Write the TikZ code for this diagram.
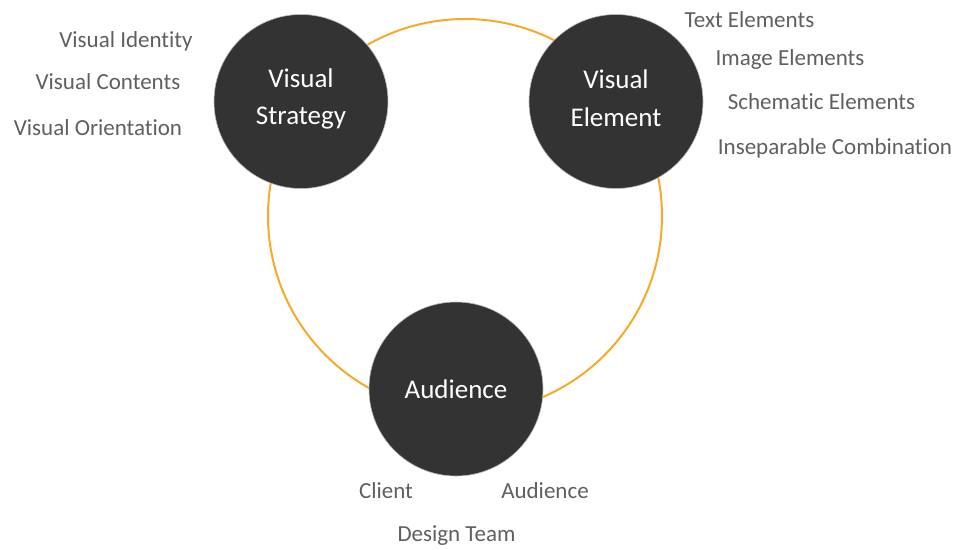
\documentclass[tikz,border=0pt]{standalone}
\usepackage{fontspec}
\setmainfont[Ligatures={NoCommon}]{Carlito}
\definecolor{ringorange}{HTML}{F7A929}
\definecolor{darkfill}{HTML}{333333}
\definecolor{labelgray}{HTML}{5F5F5F}
\begin{document}
\begin{tikzpicture}[x=1pt,y=-1pt,
  hub/.style={circle,fill=darkfill,draw=gray!55,line width=0.6pt,minimum size=174pt,inner sep=0pt},
  hubtext/.style={anchor=base,text=white,font=\fontsize{27}{31}\selectfont},
  lbl/.style={anchor=base,text=labelgray,font=\fontsize{23}{27}\selectfont}]
\useasboundingbox (0,0) rectangle (958,549);
\coordinate (ringc) at (465,216);
\draw[ringorange,line width=2pt] (ringc) circle[radius=197];
\node[hub] (vs) at (301,101.5) {};
\node[hub] (ve) at (616,101.5) {};
\node[hub] (au) at (456,389) {};
\node[hubtext] (vs1) at (301,87) {Visual};
\node[hubtext] (vs2) at (301,124) {Strategy};
\node[hubtext] (ve1) at (616,88) {Visual};
\node[hubtext] (ve2) at (616,126) {Element};
\node[hubtext] (au1) at (456,398) {Audience};
\node[lbl] (l1) at (126,47) {Visual Identity};
\node[lbl] (l2) at (108,89) {Visual Contents};
\node[lbl] (l3) at (98,135) {Visual Orientation};
\node[lbl] (r1) at (749.5,27) {Text Elements};
\node[lbl] (r2) at (790,65) {Image Elements};
\node[lbl] (r3) at (821.5,109) {Schematic Elements};
\node[lbl] (r4) at (835,154) {Inseparable Combination};
\node[lbl] (b1) at (386,498) {Client};
\node[lbl] (b2) at (545,498) {Audience};
\node[lbl] (b3) at (456.5,541) {Design Team};
\end{tikzpicture}
\end{document}
